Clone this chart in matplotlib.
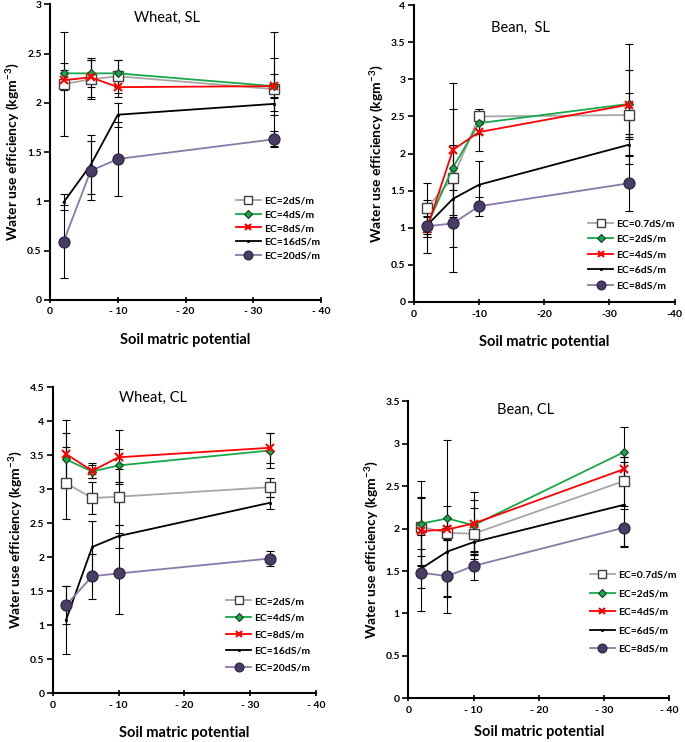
import matplotlib
matplotlib.use("Agg")
import matplotlib.pyplot as plt

# soil matric potential (shown as negative on the axis)
x = [2, 6, 10, 33]
xtick_vals = [0, 10, 20, 30, 40]
xtick_labels = ["0", "- 10", "- 20", "- 30", "- 40"]
xtick_labels_tight = ["0", "-10", "-20", "-30", "-40"]

# ---------------- Wheat, SL ----------------
wsl_labels = ["EC=2dS/m", "EC=4dS/m", "EC=8dS/m", "EC=16dS/m", "EC=20dS/m"]
wsl_vals = [
    [2.19, 2.24, 2.27, 2.14],
    [2.30, 2.30, 2.30, 2.17],
    [2.23, 2.26, 2.16, 2.17],
    [0.99, 1.37, 1.88, 1.99],
    [0.59, 1.31, 1.43, 1.63],
]
wsl_err = [
    [0.53, 0.20, 0.17, 0.58],
    [0.11, 0.14, 0.14, 0.12],
    [0.10, 0.20, 0.10, 0.29],
    [0.08, 0.30, 0.12, 0.07],
    [0.37, 0.30, 0.38, 0.08],
]

# ---------------- Bean, SL ----------------
bsl_labels = ["EC=0.7dS/m", "EC=2dS/m", "EC=4dS/m", "EC=6dS/m", "EC=8dS/m"]
bsl_vals = [
    [1.27, 1.67, 2.50, 2.52],
    [1.02, 1.81, 2.41, 2.67],
    [0.98, 2.05, 2.29, 2.66],
    [1.03, 1.39, 1.58, 2.12],
    [1.02, 1.06, 1.29, 1.60],
]
bsl_err = [
    [0.33, 0.93, 0.10, 0.30],
    [0.14, 0.30, 0.15, 0.81],
    [0.10, 0.90, 0.26, 0.46],
    [0.12, 0.22, 0.32, 0.15],
    [0.36, 0.66, 0.13, 0.38],
]

# ---------------- Wheat, CL ----------------
wcl_labels = ["EC=2dS/m", "EC=4dS/m", "EC=8dS/m", "EC=16dS/m", "EC=20dS/m"]
wcl_vals = [
    [3.09, 2.87, 2.89, 3.03],
    [3.44, 3.26, 3.35, 3.57],
    [3.52, 3.27, 3.47, 3.61],
    [1.07, 2.15, 2.31, 2.80],
    [1.29, 1.72, 1.76, 1.98],
]
wcl_err = [
    [0.53, 0.23, 0.41, 0.14],
    [0.39, 0.10, 0.24, 0.26],
    [0.50, 0.11, 0.40, 0.22],
    [0.50, 0.38, 0.17, 0.09],
    [0.28, 0.33, 0.59, 0.11],
]

# ---------------- Bean, CL ----------------
bcl_labels = ["EC=0.7dS/m", "EC=2dS/m", "EC=4dS/m", "EC=6dS/m", "EC=8dS/m"]
bcl_vals = [
    [2.02, 1.95, 1.94, 2.56],
    [2.06, 2.12, 2.04, 2.90],
    [1.97, 1.99, 2.06, 2.70],
    [1.53, 1.73, 1.84, 2.28],
    [1.48, 1.44, 1.56, 2.01],
]
bcl_err = [
    [0.34, 0.08, 0.30, 0.29],
    [0.50, 0.92, 0.30, 0.30],
    [0.40, 0.12, 0.37, 0.15],
    [0.23, 0.54, 0.14, 0.50],
    [0.45, 0.44, 0.16, 0.22],
]

styles = [
    dict(color="#a6a6a6", marker="s", ms=7, mfc="white", mec="#404040", mew=1.0),
    dict(color="#17a84b", marker="D", ms=4.5, mfc="#17a84b", mec="#1a3a1a", mew=0.8),
    dict(color="#ff0000", marker="x", ms=6, mfc="#ff0000", mec="#ff0000", mew=1.5),
    dict(color="#000000", marker="s", ms=2, mfc="black", mec="black", mew=0.5),
    dict(color="#8a78a8", marker="o", ms=8, mfc="#4a3d63", mec="#2a2040", mew=0.8),
]

plt.rcParams.update({
    "font.family": ["Lato", "DejaVu Sans"],
    "font.size": 8,
    "mathtext.fontset": "custom",
    "mathtext.rm": "Lato",
    "mathtext.bf": "Lato:bold",
})

fig = plt.figure(figsize=(6.85, 7.42), dpi=100)

# rect, title, title pos, ymax, tick labels, values, errors, legend labels,
# legend anchor, legend spacing, xlabel pad
panels = [
    ([0.073, 0.596, 0.396, 0.398], "Wheat, SL", (0.43, 0.955), 3.0, xtick_labels,
     wsl_vals, wsl_err, wsl_labels, (0.685, 0.35), 0.42, 12),
    ([0.604, 0.593, 0.381, 0.400], "Bean,  SL", (0.41, 0.925), 4.0, xtick_labels_tight,
     bsl_vals, bsl_err, bsl_labels, (0.668, 0.28), 0.6, 12),
    ([0.077, 0.066, 0.384, 0.412], "Wheat, CL", (0.38, 0.965), 4.5, xtick_labels,
     wcl_vals, wcl_err, wcl_labels, (0.66, 0.315), 0.7, 12),
    ([0.596, 0.059, 0.381, 0.400], "Bean, CL", (0.45, 0.97), 3.5, xtick_labels,
     bcl_vals, bcl_err, bcl_labels, (0.696, 0.43), 0.88, 7),
]

for rect, title, tpos, ymax, xtl, vals, errs, labels, lpos, lsp, xpad in panels:
    ax = fig.add_axes(rect)
    for v, e in zip(vals, errs):
        ax.errorbar(x, v, yerr=e, fmt="none", ecolor="black", elinewidth=0.8,
                    capsize=3, capthick=0.8, zorder=2)
    for v, lab, st in zip(vals, labels, styles):
        ax.plot(x, v, lw=1.3, label=lab, zorder=3, **st)

    ax.set_xlim(0, 40)
    ax.set_ylim(0, ymax)
    ax.set_xticks(xtick_vals)
    ax.set_xticklabels(xtl)
    yt = [i * 0.5 for i in range(int(round(ymax / 0.5)) + 1)]
    ax.set_yticks(yt)
    ax.set_yticklabels([f"{t:g}" for t in yt])
    for lbl in ax.get_xticklabels() + ax.get_yticklabels():
        lbl.set_fontweight("bold")
        lbl.set_fontsize(7.5)

    ax.spines["top"].set_visible(False)
    ax.spines["right"].set_visible(False)
    ax.spines["left"].set_linewidth(1.5)
    ax.spines["bottom"].set_linewidth(1.5)
    ax.tick_params(axis="y", direction="out", length=4, width=1.2, pad=2)
    ax.tick_params(axis="x", direction="inout", length=5, width=1.2, pad=3)

    ax.set_xlabel("Soil matric potential", fontsize=10.5, fontweight="bold", labelpad=xpad)
    ax.set_ylabel("Water use efficiency (kgm$^{\\mathbf{-3}}$)", fontsize=10,
                  fontweight="bold", labelpad=4)

    ax.text(tpos[0], tpos[1], title, transform=ax.transAxes, ha="center",
            va="center", fontsize=10.5)

    leg = ax.legend(loc="upper left", bbox_to_anchor=lpos, frameon=False,
                    fontsize=7.5, handlelength=2.4, handletextpad=0.3,
                    labelspacing=lsp, borderaxespad=0, borderpad=0,
                    markerscale=0.8)
    for t in leg.get_texts():
        t.set_fontweight("bold")

plt.savefig("out.png", dpi=100)
